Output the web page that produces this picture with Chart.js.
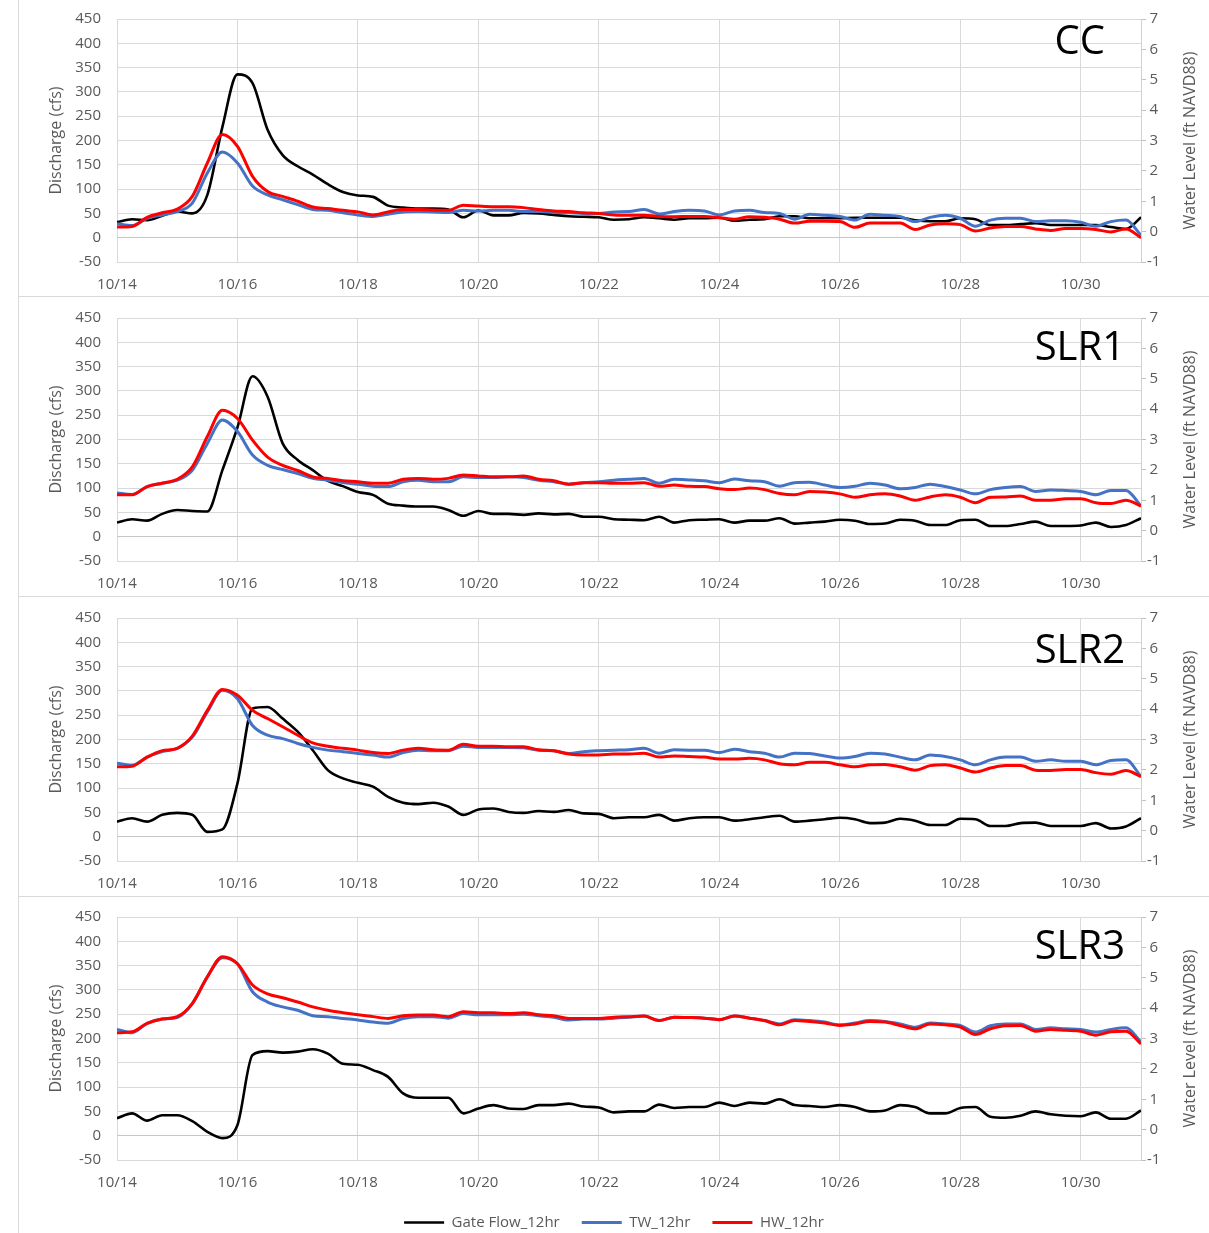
<!DOCTYPE html>
<html>
<head>
<meta charset="utf-8">
<title>Gate Flow and Water Levels</title>
<script src="https://cdn.jsdelivr.net/npm/chart.js@4.4.1/dist/chart.umd.min.js"></script>
<style>
  body { margin: 0; background: #fff; overflow: hidden; }
  .panel { position: absolute; left: 18px; width: 1191px; box-sizing: border-box; border-left: 1px solid #d9d9d9; }
  .panel.sep { border-bottom: 1px solid #d9d9d9; }
  canvas { display: block; }
</style>
</head>
<body>
<div class="panel sep" style="top:0px;height:297px"><canvas id="c0"></canvas></div>
<div class="panel sep" style="top:297px;height:300px"><canvas id="c1"></canvas></div>
<div class="panel sep" style="top:597px;height:300px"><canvas id="c2"></canvas></div>
<div class="panel" style="top:897px;height:350px"><canvas id="c3"></canvas></div>
<script>
// time axis: day of October, every 6 hours
const days = [14, 14.25, 14.5, 14.75, 15, 15.25, 15.5, 15.75, 16, 16.25, 16.5, 16.75,
  17, 17.25, 17.5, 17.75, 18, 18.25, 18.5, 18.75, 19, 19.25, 19.5, 19.75,
  20, 20.25, 20.5, 20.75, 21, 21.25, 21.5, 21.75, 22, 22.25, 22.5, 22.75,
  23, 23.25, 23.5, 23.75, 24, 24.25, 24.5, 24.75, 25, 25.25, 25.5, 25.75,
  26, 26.25, 26.5, 26.75, 27, 27.25, 27.5, 27.75, 28, 28.25, 28.5, 28.75,
  29, 29.25, 29.5, 29.75, 30, 30.25, 30.5, 30.75, 31];

const tickDays = [14, 16, 18, 20, 22, 24, 26, 28, 30];
const tickLabels = ["10/14", "10/16", "10/18", "10/20", "10/22", "10/24", "10/26", "10/28", "10/30"];

const seriesNames = ["Gate Flow_12hr", "TW_12hr", "HW_12hr"];
const scenarioNames = ["CC", "SLR1", "SLR2", "SLR3"];

// Gate flow (cfs)
const ccFlow = [32, 38, 36, 45, 54, 50, 88, 228, 336, 318, 222, 170, 147, 130, 110, 94,
  87, 84, 66, 62, 60, 60, 58, 42, 56, 46, 46, 51, 50, 47, 44, 43, 42, 37, 38, 42,
  40, 37, 40, 40, 41, 35, 37, 38, 44, 44, 40, 40, 40, 41, 41, 41, 41, 36, 34, 34,
  40, 38, 26, 26, 28, 30, 26, 26, 26, 26, 22, 18, 42];
const slr1Flow = [29, 36, 33, 47, 55, 53, 52, 137, 225, 330, 288, 192, 158, 137, 115, 104,
  92, 86, 68, 64, 62, 62, 55, 43, 53, 47, 47, 45, 48, 46, 47, 41, 41, 36, 35, 34,
  41, 29, 34, 35, 36, 29, 33, 33, 38, 27, 29, 31, 35, 33, 26, 27, 35, 33, 24, 24,
  34, 35, 22, 22, 26, 31, 22, 22, 23, 29, 20, 24, 38];
const slr2Flow = [31, 38, 31, 45, 49, 45, 10, 15, 110, 264, 267, 243, 216, 178, 137, 120,
  111, 103, 82, 70, 67, 70, 62, 45, 56, 58, 51, 49, 53, 51, 55, 48, 47, 38, 40, 40,
  45, 33, 38, 40, 40, 33, 36, 40, 43, 31, 33, 36, 39, 36, 28, 29, 37, 33, 24, 24,
  37, 36, 22, 22, 28, 29, 22, 22, 22, 28, 17, 21, 38];
const slr3Flow = [36, 46, 31, 42, 42, 30, 8, -5, 22, 166, 174, 171, 173, 178, 169, 148,
  146, 135, 121, 87, 78, 78, 78, 46, 56, 63, 56, 55, 63, 63, 66, 60, 58, 48, 50, 50,
  64, 57, 59, 59, 68, 61, 68, 66, 75, 63, 61, 59, 63, 59, 50, 52, 63, 59, 46, 46,
  57, 59, 39, 37, 41, 50, 44, 41, 40, 48, 35, 35, 52];

// Tailwater level (ft NAVD88)
const ccTW = [0.26, 0.20, 0.44, 0.55, 0.66, 0.94, 1.93, 2.62, 2.26, 1.50, 1.21, 1.05,
  0.89, 0.73, 0.70, 0.62, 0.55, 0.50, 0.57, 0.65, 0.66, 0.65, 0.63, 0.70,
  0.68, 0.70, 0.70, 0.66, 0.66, 0.63, 0.62, 0.60, 0.60, 0.65, 0.66, 0.73,
  0.58, 0.66, 0.70, 0.68, 0.55, 0.68, 0.70, 0.63, 0.60, 0.41, 0.57, 0.54,
  0.50, 0.38, 0.57, 0.54, 0.50, 0.33, 0.47, 0.54, 0.44, 0.18, 0.38, 0.44,
  0.44, 0.33, 0.36, 0.36, 0.31, 0.18, 0.33, 0.38, -0.12];
const slr1TW = [1.24, 1.19, 1.45, 1.56, 1.66, 1.99, 2.87, 3.64, 3.26, 2.49, 2.15, 2.01,
  1.88, 1.72, 1.66, 1.58, 1.53, 1.46, 1.45, 1.61, 1.66, 1.61, 1.61, 1.77,
  1.75, 1.75, 1.77, 1.75, 1.66, 1.61, 1.53, 1.58, 1.61, 1.66, 1.69, 1.72,
  1.56, 1.69, 1.67, 1.64, 1.58, 1.70, 1.64, 1.61, 1.46, 1.58, 1.59, 1.50,
  1.42, 1.46, 1.56, 1.50, 1.38, 1.42, 1.53, 1.45, 1.34, 1.21, 1.35, 1.42,
  1.45, 1.29, 1.34, 1.32, 1.29, 1.18, 1.32, 1.32, 0.81];
const slr2TW = [2.22, 2.15, 2.42, 2.60, 2.71, 3.08, 3.91, 4.62, 4.34, 3.46, 3.14, 3.03,
  2.87, 2.74, 2.65, 2.60, 2.54, 2.49, 2.42, 2.57, 2.65, 2.63, 2.63, 2.78,
  2.74, 2.74, 2.74, 2.73, 2.65, 2.63, 2.54, 2.60, 2.63, 2.65, 2.66, 2.71,
  2.55, 2.66, 2.65, 2.65, 2.57, 2.68, 2.60, 2.55, 2.42, 2.55, 2.54, 2.46,
  2.39, 2.44, 2.55, 2.52, 2.42, 2.33, 2.49, 2.44, 2.33, 2.17, 2.33, 2.42,
  2.42, 2.28, 2.33, 2.28, 2.28, 2.17, 2.31, 2.33, 1.78];
const slr3TW = [3.30, 3.19, 3.50, 3.64, 3.69, 4.15, 5.03, 5.66, 5.46, 4.54, 4.20, 4.04,
  3.93, 3.75, 3.72, 3.66, 3.61, 3.54, 3.50, 3.66, 3.72, 3.72, 3.67, 3.82,
  3.78, 3.78, 3.78, 3.80, 3.75, 3.70, 3.61, 3.64, 3.64, 3.67, 3.70, 3.74,
  3.59, 3.70, 3.69, 3.67, 3.62, 3.74, 3.67, 3.59, 3.48, 3.62, 3.59, 3.54,
  3.45, 3.51, 3.59, 3.56, 3.48, 3.37, 3.51, 3.48, 3.43, 3.21, 3.42, 3.48,
  3.48, 3.30, 3.35, 3.32, 3.30, 3.21, 3.30, 3.35, 2.89];

// Headwater level (ft NAVD88)
const ccHW = [0.15, 0.17, 0.47, 0.62, 0.74, 1.16, 2.26, 3.20, 2.81, 1.82, 1.32, 1.16,
  1.00, 0.81, 0.76, 0.70, 0.65, 0.55, 0.65, 0.73, 0.73, 0.71, 0.70, 0.87,
  0.84, 0.82, 0.82, 0.79, 0.73, 0.68, 0.66, 0.62, 0.60, 0.55, 0.54, 0.54,
  0.50, 0.49, 0.50, 0.50, 0.46, 0.41, 0.49, 0.47, 0.41, 0.28, 0.34, 0.34,
  0.33, 0.14, 0.28, 0.28, 0.28, 0.07, 0.22, 0.26, 0.23, 0.02, 0.12, 0.17,
  0.17, 0.09, 0.04, 0.10, 0.10, 0.07, -0.01, 0.09, -0.20];
const slr1HW = [1.18, 1.18, 1.45, 1.56, 1.69, 2.10, 3.10, 3.96, 3.69, 2.98, 2.42, 2.15,
  1.98, 1.77, 1.72, 1.64, 1.61, 1.56, 1.56, 1.69, 1.72, 1.69, 1.72, 1.83,
  1.80, 1.77, 1.77, 1.80, 1.69, 1.64, 1.53, 1.58, 1.58, 1.56, 1.56, 1.58,
  1.46, 1.50, 1.46, 1.45, 1.38, 1.35, 1.40, 1.35, 1.22, 1.18, 1.29, 1.27,
  1.21, 1.10, 1.18, 1.21, 1.14, 1.00, 1.11, 1.18, 1.10, 0.92, 1.10, 1.11,
  1.14, 1.00, 1.00, 1.05, 1.05, 0.92, 0.89, 1.00, 0.81];
const slr2HW = [2.10, 2.12, 2.42, 2.63, 2.71, 3.11, 3.96, 4.65, 4.46, 3.96, 3.69, 3.42,
  3.14, 2.89, 2.78, 2.71, 2.65, 2.57, 2.54, 2.65, 2.71, 2.66, 2.65, 2.84,
  2.78, 2.78, 2.76, 2.76, 2.66, 2.63, 2.52, 2.49, 2.49, 2.52, 2.52, 2.55,
  2.42, 2.46, 2.44, 2.42, 2.36, 2.36, 2.38, 2.33, 2.20, 2.17, 2.25, 2.25,
  2.17, 2.10, 2.17, 2.18, 2.10, 1.99, 2.14, 2.17, 2.06, 1.93, 2.06, 2.14,
  2.14, 1.99, 1.98, 2.01, 2.01, 1.91, 1.86, 1.98, 1.78];
const slr3HW = [3.19, 3.22, 3.50, 3.64, 3.72, 4.15, 5.03, 5.69, 5.46, 4.76, 4.47, 4.34,
  4.20, 4.04, 3.93, 3.85, 3.78, 3.72, 3.66, 3.75, 3.77, 3.77, 3.72, 3.88,
  3.85, 3.85, 3.82, 3.85, 3.78, 3.75, 3.66, 3.66, 3.66, 3.70, 3.72, 3.74,
  3.59, 3.70, 3.69, 3.67, 3.62, 3.74, 3.67, 3.59, 3.45, 3.59, 3.56, 3.51,
  3.43, 3.48, 3.56, 3.54, 3.43, 3.32, 3.48, 3.45, 3.38, 3.13, 3.32, 3.42,
  3.43, 3.24, 3.30, 3.27, 3.24, 3.11, 3.22, 3.24, 2.82];

const flows = [ccFlow, slr1Flow, slr2Flow, slr3Flow];
const tws = [ccTW, slr1TW, slr2TW, slr3TW];
const hws = [ccHW, slr1HW, slr2HW, slr3HW];

// layout of each panel (canvas pixels)
const PLOT_H = 243;
const layouts = [
  { top: 19, bottom: 0, labelX: 1086, labelDy: 24, legend: false },
  { top: 21, bottom: 0, labelX: 1106, labelDy: 31, legend: false },
  { top: 21, bottom: 0, labelX: 1106, labelDy: 34, legend: false },
  { top: 20, bottom: 7, labelX: 1106, labelDy: 31, legend: true }
];

Chart.defaults.font.family = '"Open Sans", sans-serif';
Chart.defaults.font.size = 15;
Chart.defaults.color = "#595959";

const panelText = {
  id: "panelText",
  afterDraw(chart, args, opts) {
    const { ctx, chartArea } = chart;
    ctx.save();
    ctx.fillStyle = "#000";
    ctx.font = '40px "Open Sans", sans-serif';
    ctx.textAlign = "right";
    ctx.textBaseline = "middle";
    ctx.fillText(opts.label, opts.x, chartArea.top + opts.dy);
    ctx.translate(1171, (chartArea.top + chartArea.bottom) / 2);
    ctx.rotate(-Math.PI / 2);
    ctx.fillStyle = "#595959";
    ctx.font = '16px "Open Sans", sans-serif';
    ctx.textAlign = "center";
    ctx.fillText("Water Level (ft NAVD88)", 0, 0);
    ctx.restore();
  }
};

function pts(vals) {
  return vals.map((v, i) => ({ x: days[i], y: v }));
}

function makeChart(i) {
  const lay = layouts[i];
  const line = (label, vals, color, width, axis, order) => ({
    label, data: pts(vals), yAxisID: axis, order,
    borderColor: color, backgroundColor: color, borderWidth: width,
    pointRadius: 0, cubicInterpolationMode: "monotone", fill: false
  });
  return new Chart(document.getElementById("c" + i), {
    type: "line",
    data: {
      datasets: [
        line(seriesNames[0], flows[i], "#000000", 2.6, "y", 3),
        line(seriesNames[1], tws[i], "#4472c4", 3, "y1", 2),
        line(seriesNames[2], hws[i], "#ff0000", 3, "y1", 1)
      ]
    },
    options: {
      responsive: true,
      maintainAspectRatio: false,
      animation: false,
      layout: { padding: { top: lay.top, bottom: lay.bottom, left: 0, right: 0 } },
      plugins: {
        tooltip: { enabled: false },
        legend: {
          display: lay.legend,
          position: "bottom",
          labels: {
            usePointStyle: true, pointStyle: "line", pointStyleWidth: 40,
            padding: 22, color: "#595959", font: { size: 15 },
            sort: (a, b) => a.datasetIndex - b.datasetIndex
          }
        },
        panelText: { label: scenarioNames[i], x: lay.labelX, dy: lay.labelDy }
      },
      scales: {
        x: {
          type: "linear", min: 14, max: 31,
          afterBuildTicks: (s) => { s.ticks = tickDays.map(v => ({ value: v })); },
          afterFit: (s) => {
            const ch = s.chart;
            const lg = lay.legend && ch.legend ? ch.legend.height : 0;
            s.height = ch.height - lay.top - lay.bottom - PLOT_H - lg;
          },
          ticks: {
            padding: 14, maxRotation: 0, autoSkip: false,
            callback: (v) => tickLabels[tickDays.indexOf(v)]
          },
          grid: { color: "#d9d9d9", drawTicks: false },
          border: { display: false }
        },
        y: {
          position: "left", min: -50, max: 450,
          afterFit: (s) => { s.width = 98; s.paddingTop = 0; s.paddingBottom = 0; },
          ticks: { stepSize: 50, padding: 16 },
          title: { display: true, text: "Discharge (cfs)", font: { size: 16 }, color: "#595959", padding: { top: 28, bottom: 0 } },
          grid: { color: (c) => (c.tick && c.tick.value === 0 ? "#c6c6c6" : "#d9d9d9"), drawTicks: false },
          border: { display: false }
        },
        y1: {
          position: "right", min: -1, max: 7,
          afterFit: (s) => { s.width = 68; s.paddingTop = 0; s.paddingBottom = 0; },
          ticks: { stepSize: 1, crossAlign: "center", padding: 1 },
          grid: { drawOnChartArea: false, drawTicks: true, tickLength: 5, color: "#bfbfbf" },
          border: { display: true, color: "#d0d0d0" }
        }
      }
    },
    plugins: [panelText]
  });
}

for (let i = 0; i < 4; i++) makeChart(i);
</script>
</body>
</html>
